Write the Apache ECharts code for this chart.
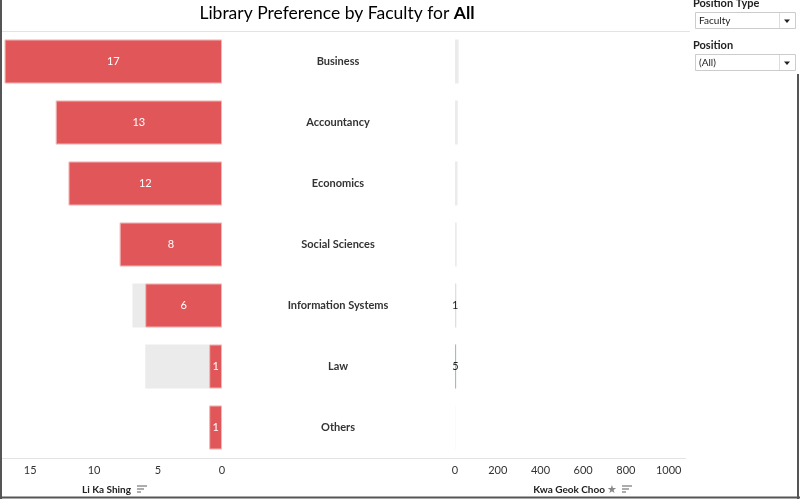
<!DOCTYPE html>
<html><head><meta charset="utf-8">
<script src="https://cdn.jsdelivr.net/npm/echarts@6/dist/echarts.min.js"></script>
<style>html,body{margin:0;padding:0;background:#fff}#c{width:800px;height:499px}</style>
</head><body><div id="c"></div>
<script>
const categories = ['Business','Accountancy','Economics','Social Sciences','Information Systems','Law','Others'];
const liKaShing = [17,13,12,8,6,1,1];
const kwaGeokChoo = [0,0,0,0,1,5,0];
const totals = [17,13,12,8,7,6,1];
const leftTicks = [0,5,10,15];
const rightTicks = [0,200,400,600,800,1000];

const FONT = 'Lato, "Open Sans", sans-serif';
const chart = echarts.init(document.getElementById('c'), null, {renderer:'canvas'});
const red = '#e15759', grey = '#ebebeb', teal = '#86cbbd';

function sortIcon(x, y){
  return [
    {type:'line', shape:{x1:x,y1:y,x2:x+10,y2:y}, style:{stroke:'#777',lineWidth:1.2}},
    {type:'line', shape:{x1:x,y1:y+3,x2:x+7,y2:y+3}, style:{stroke:'#777',lineWidth:1.2}},
    {type:'line', shape:{x1:x,y1:y+6,x2:x+4,y2:y+6}, style:{stroke:'#777',lineWidth:1.2}}
  ];
}

const option = {
  animation:false,
  textStyle:{fontFamily:FONT},
  grid:[
    {left:2, right:578, top:31, bottom:41, containLabel:false},
    {left:455, right:110, top:31, bottom:41, containLabel:false}
  ],
  xAxis:[
    {type:'value', gridIndex:0, inverse:true, min:0, max:17.2, interval:5,
     splitLine:{show:false}, axisLine:{show:false}, axisTick:{show:false},
     axisLabel:{color:'#333', fontSize:11, margin:7, showMaxLabel:false, fontFamily:FONT,
       formatter:v=>leftTicks.includes(v)?String(v):''}},
    {type:'value', gridIndex:1, min:0, max:1100, interval:200,
     splitLine:{show:false}, axisLine:{show:false}, axisTick:{show:false},
     axisLabel:{color:'#333', fontSize:11, margin:7, showMaxLabel:false, fontFamily:FONT,
       formatter:v=>rightTicks.includes(v)?String(v):''}}
  ],
  yAxis:[
    {type:'category', gridIndex:0, data:categories, inverse:true, position:'right',
     axisLine:{show:false}, axisTick:{show:false},
     axisLabel:{margin:116, align:'center', color:'#333', fontSize:11, fontWeight:'bold', fontFamily:FONT}},
    {type:'category', gridIndex:1, data:categories, inverse:true,
     axisLine:{show:false}, axisTick:{show:false}, axisLabel:{show:false}}
  ],
  series:[
    {type:'bar', xAxisIndex:0, yAxisIndex:0, data:totals, barWidth:44, barGap:'-100%',
     itemStyle:{color:grey}, silent:true},
    {type:'bar', xAxisIndex:0, yAxisIndex:0, data:liKaShing, barWidth:44, barGap:'-100%',
     itemStyle:{color:red, borderColor:'#f2b6b7', borderWidth:1},
     label:{show:true, position:'inside', color:'#fff', fontSize:11, fontFamily:FONT}},
    {type:'bar', xAxisIndex:1, yAxisIndex:1, data:totals, barWidth:44, barGap:'-100%',
     itemStyle:{color:grey}, silent:true},
    {type:'bar', xAxisIndex:1, yAxisIndex:1, data:kwaGeokChoo, barWidth:44, barGap:'-100%',
     itemStyle:{color:teal},
     label:{show:true, position:'inside', color:'#222', fontSize:11, fontFamily:FONT,
       formatter:p=>p.value?String(p.value):''}}
  ],
  graphic:[
    {type:'line', shape:{x1:2,y1:31.5,x2:690,y2:31.5}, style:{stroke:'#e3e3e3',lineWidth:1}},
    {type:'line', shape:{x1:2,y1:458.5,x2:686,y2:458.5}, style:{stroke:'#e3e3e3',lineWidth:1}},
    {type:'text', style:{
      x:337, y:13, align:'center', verticalAlign:'middle',
      text:'{a|Library Preference by Faculty for }{b|All}',
      rich:{a:{fontSize:17.5, color:'#666', fontFamily:FONT}, b:{fontSize:17.5, color:'#222', fontWeight:'bold', fontFamily:FONT}}
    }},
    {type:'text', style:{x:131, y:490, align:'right', verticalAlign:'middle', text:'Li Ka Shing', fontSize:10, fontWeight:'bold', fill:'#222', fontFamily:FONT}},
    ...sortIcon(137, 486),
    {type:'text', style:{x:605, y:490, align:'right', verticalAlign:'middle', text:'Kwa Geok Choo', fontSize:10, fontWeight:'bold', fill:'#222', fontFamily:FONT}},
    {type:'text', style:{x:612, y:490, align:'center', verticalAlign:'middle', text:'\u2605', fontSize:11, fill:'#888', fontFamily:'DejaVu Sans'}},
    ...sortIcon(622, 486),
    {type:'text', style:{x:693, y:3, align:'left', verticalAlign:'middle', text:'Position Type', fontSize:11, fontWeight:'bold', fill:'#222', fontFamily:FONT}},
    {type:'rect', shape:{x:695.5,y:12.5,width:100,height:16}, style:{fill:'#fff', stroke:'#ccc', lineWidth:1}},
    {type:'line', shape:{x1:779.5,y1:13,x2:779.5,y2:28}, style:{stroke:'#ddd', lineWidth:1}},
    {type:'text', style:{x:699, y:21, align:'left', verticalAlign:'middle', text:'Faculty', fontSize:10, fill:'#222', fontFamily:FONT}},
    {type:'polygon', shape:{points:[[784,19.5],[790,19.5],[787,23]]}, style:{fill:'#222'}},
    {type:'text', style:{x:693, y:45, align:'left', verticalAlign:'middle', text:'Position', fontSize:11, fontWeight:'bold', fill:'#222', fontFamily:FONT}},
    {type:'rect', shape:{x:695.5,y:54.5,width:100,height:16}, style:{fill:'#fff', stroke:'#ccc', lineWidth:1}},
    {type:'line', shape:{x1:779.5,y1:55,x2:779.5,y2:70}, style:{stroke:'#ddd', lineWidth:1}},
    {type:'text', style:{x:699, y:63, align:'left', verticalAlign:'middle', text:'(All)', fontSize:10, fill:'#222', fontFamily:FONT}},
    {type:'polygon', shape:{points:[[784,61.5],[790,61.5],[787,65]]}, style:{fill:'#222'}},
    {type:'line', shape:{x1:1,y1:0,x2:1,y2:499}, style:{stroke:'#555', lineWidth:2}},
    {type:'line', shape:{x1:0,y1:497.5,x2:800,y2:497.5}, style:{stroke:'#555', lineWidth:2}},
    {type:'line', shape:{x1:798,y1:74,x2:798,y2:499}, style:{stroke:'#555', lineWidth:2}}
  ]
};
chart.setOption(option);
</script></body></html>
